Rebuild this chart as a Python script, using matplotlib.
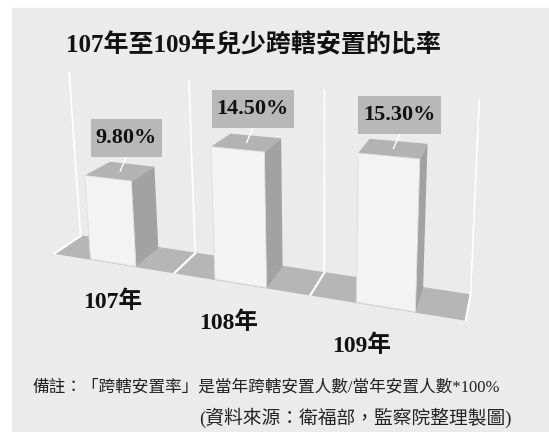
import numpy as np
import matplotlib
matplotlib.use("Agg")
import matplotlib.pyplot as plt
from matplotlib.patches import Polygon, Rectangle

years = ["107年", "108年", "109年"]
rates = [9.80, 14.50, 15.30]
rate_labels = ["9.80%", "14.50%", "15.30%"]
z_max = 20

title = "107年至109年兒少跨轄安置的比率"
note = "備註：「跨轄安置率」是當年跨轄安置人數/當年安置人數*100%"
source = "(資料來源：衛福部，監察院整理製圖)"

# perspective camera: (category, depth, value) -> pixel position
CAM = np.array([[112.971, 31.2311, -0.791277, 112.937],
                [3.5648, -4.21658, -9.06066, 262.722],
                [-0.0605263, 0.0579538, -0.0024732, 1.0]])


def proj(X, Y, Z):
    v = CAM @ np.array([X, Y, Z, 1.0])
    return v[0] / v[2], v[1] / v[2]


serif_cjk = ["Liberation Serif", "Noto Sans CJK TC"]

fig = plt.figure(figsize=(5.49, 4.32), dpi=100)
ax = fig.add_axes([0, 0, 1, 1])
ax.set_xlim(0, 549)
ax.set_ylim(432, 0)
ax.axis("off")
ax.add_patch(Rectangle((12, 8), 540, 430, color="#ebebeb", zorder=0))

n = len(rates)
floor = [proj(-0.5, 0, 0), proj(n - 0.5, 0, 0), proj(n - 0.5, 1, 0), proj(-0.5, 1, 0)]
ax.add_patch(Polygon(floor, closed=True, color="#b6b6b6", zorder=1))
for X in np.arange(-0.5, n, 1.0):
    ax.plot(*zip(proj(X, 1, 0), proj(X, 1, z_max)), color="white", lw=1.2, zorder=2)
    ax.plot(*zip(proj(X, 0, 0), proj(X, 1, 0)), color="white", lw=1.6, zorder=2)

hw = 0.19
labels = []
for i, v in enumerate(rates):
    x0, x1 = i - hw, i + hw
    side = [proj(x1, 0, 0), proj(x1, 1, 0), proj(x1, 1, v), proj(x1, 0, v)]
    top = [proj(x0, 0, v), proj(x1, 0, v), proj(x1, 1, v), proj(x0, 1, v)]
    front = [proj(x0, 0, 0), proj(x1, 0, 0), proj(x1, 0, v), proj(x0, 0, v)]
    ax.add_patch(Polygon(side, closed=True, fc="#a2a2a2", ec="none", zorder=3))
    ax.add_patch(Polygon(top, closed=True, fc="#b3b3b3", ec="none", zorder=3))
    ax.add_patch(Polygon(front, closed=True, fc="#f3f3f3", ec="#dddddd", lw=0.6, zorder=4))

    # value label in a grey box, joined to the bar top by a white leader
    ax_, ay_ = proj(i, 0.5, v)
    lx, ly = ax_ + 6, ay_ - 33
    t = ax.text(lx, ly, rate_labels[i], ha="center", va="center", fontsize=16,
                fontweight="bold", family=["Liberation Serif"], color="#111111", zorder=7)
    labels.append((t, ax_, ay_))

    bx, by = proj(i, 0, 0)
    ax.text(bx - 12 * i, by + 39, years[i], ha="center", va="center", fontsize=17,
            fontweight="bold", family=serif_cjk, color="#111111", zorder=6)

fig.canvas.draw()
inv = ax.transData.inverted()
for t, ax_, ay_ in labels:
    bb = t.get_window_extent()
    (x0, y0), (x1, y1) = inv.transform([[bb.x0 - 5, bb.y0 - 9], [bb.x1 + 5, bb.y1 + 9]])
    ax.add_patch(Rectangle((x0, y1), x1 - x0, y0 - y1, fc="#b8b8b8", ec="none", zorder=6))
    ax.plot([(x0 + x1) / 2, ax_], [y0, ay_], color="white", lw=1, zorder=5)

fig.text(253 / 549, 1 - 45 / 432, title, ha="center", va="center", fontsize=18,
         fontweight="bold", family=serif_cjk, color="#111111")
fig.text(266 / 549, 1 - 388 / 432, note, ha="center", va="center", fontsize=12,
         family=serif_cjk, color="#222222")
fig.text(512 / 549, 1 - 418 / 432, source, ha="right", va="center", fontsize=13.5,
         family=serif_cjk, color="#222222")

fig.savefig("out.png", dpi=100)
